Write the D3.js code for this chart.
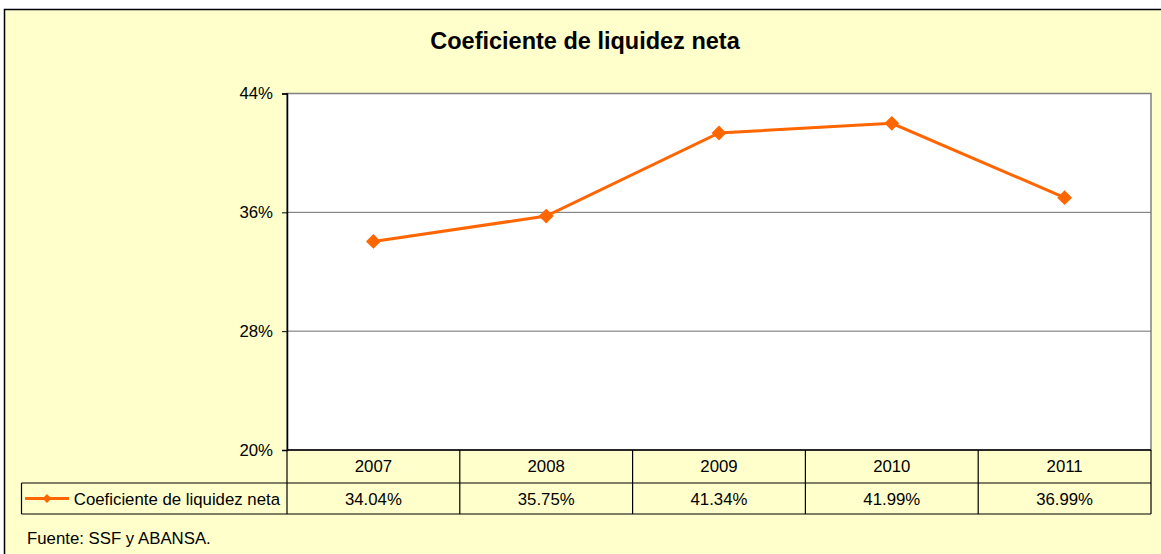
<!DOCTYPE html>
<html>
<head>
<meta charset="utf-8">
<script src="https://cdn.jsdelivr.net/npm/d3@7"></script>
<style>
  html, body { margin: 0; padding: 0; background: #fff; }
  svg { display: block; font-family: "Liberation Sans", Arial, sans-serif; }
</style>
</head>
<body>
<div id="chart"></div>
<script>
// chart data
const years = ['2007', '2008', '2009', '2010', '2011'];
const liquidez = [34.04, 35.75, 41.34, 41.99, 36.99];
const yTicks = [20, 28, 36, 44];
const seriesName = 'Coeficiente de liquidez neta';
const titleText = 'Coeficiente de liquidez neta';
const sourceText = 'Fuente: SSF y ABANSA.';

const W = 1161, H = 554;
const plot = { left: 287, right: 1151, top: 93.5, bottom: 450 };
const rowH = [33, 31];
const legendLeft = 21.5;
const orange = '#FF6600';
const bg = '#FFFFCC';
const fs = 16.8;

const svg = d3.select('#chart').append('svg')
  .attr('width', W).attr('height', H);

// frame
svg.append('rect')
  .attr('x', 4.5).attr('y', 9.5)
  .attr('width', W + 10).attr('height', H + 10)
  .attr('fill', bg).attr('stroke', '#000').attr('stroke-width', 1.5);

svg.append('text')
  .attr('x', 585).attr('y', 49)
  .attr('text-anchor', 'middle')
  .attr('font-size', 23.5).attr('font-weight', 'bold')
  .text(titleText);

const x = d3.scaleBand()
  .domain(years)
  .range([plot.left, plot.right]);

const y = d3.scaleLinear()
  .domain([20, 44])
  .range([plot.bottom, plot.top]);

// plot area
svg.append('rect')
  .attr('x', plot.left).attr('y', plot.top)
  .attr('width', plot.right - plot.left).attr('height', plot.bottom - plot.top)
  .attr('fill', '#fff').attr('stroke', '#808080').attr('stroke-width', 1.5);

// gridlines
svg.append('g')
  .selectAll('line')
  .data(yTicks.filter(d => d > 20 && d < 44))
  .join('line')
  .attr('x1', plot.left).attr('x2', plot.right)
  .attr('y1', d => y(d)).attr('y2', d => y(d))
  .attr('stroke', '#6e6e6e').attr('stroke-width', 1);

// y axis
const yAxis = d3.axisLeft(y)
  .tickValues(yTicks)
  .tickSize(5)
  .tickPadding(9)
  .tickFormat(d => d + '%');

const ya = svg.append('g')
  .attr('transform', 'translate(' + plot.left + ',0)')
  .call(yAxis);
ya.select('.domain').attr('stroke', '#000').attr('stroke-width', 1.5);
ya.selectAll('.tick line').attr('stroke', '#000');
ya.selectAll('.tick text')
  .attr('font-size', fs).attr('fill', '#000')
  .attr('font-family', '"Liberation Sans", Arial, sans-serif');

// line
const line = d3.line()
  .x((d, i) => x(years[i]) + x.bandwidth() / 2)
  .y(d => y(d));

svg.append('path')
  .datum(liquidez)
  .attr('d', line)
  .attr('fill', 'none')
  .attr('stroke', orange)
  .attr('stroke-width', 3);

const diamond = d3.symbol().type(d3.symbolDiamond2).size(140);
svg.append('g')
  .selectAll('path')
  .data(liquidez)
  .join('path')
  .attr('transform', (d, i) => 'translate(' + (x(years[i]) + x.bandwidth() / 2) + ',' + y(d) + ')')
  .attr('d', diamond)
  .attr('fill', orange);

// data table
const tbl = svg.append('g');
const r1 = plot.bottom, r2 = r1 + rowH[0], r3 = r2 + rowH[1];

tbl.append('line')
  .attr('x1', plot.left).attr('x2', plot.right)
  .attr('y1', r1).attr('y2', r1)
  .attr('stroke', '#000').attr('stroke-width', 1.5);
tbl.append('line')
  .attr('x1', legendLeft).attr('x2', plot.right)
  .attr('y1', r2).attr('y2', r2)
  .attr('stroke', '#000').attr('stroke-width', 1.2);
tbl.append('line')
  .attr('x1', legendLeft).attr('x2', plot.right)
  .attr('y1', r3).attr('y2', r3)
  .attr('stroke', '#000').attr('stroke-width', 1.2);
tbl.append('line')
  .attr('x1', legendLeft).attr('x2', legendLeft)
  .attr('y1', r2).attr('y2', r3)
  .attr('stroke', '#000').attr('stroke-width', 1.2);

const colEdges = years.map(d => x(d)).concat([plot.right]);
tbl.selectAll('line.col')
  .data(colEdges)
  .join('line')
  .attr('class', 'col')
  .attr('x1', d => d).attr('x2', d => d)
  .attr('y1', r1).attr('y2', r3)
  .attr('stroke', '#000').attr('stroke-width', 1.2);

tbl.selectAll('text.year')
  .data(years)
  .join('text')
  .attr('class', 'year')
  .attr('x', d => x(d) + x.bandwidth() / 2)
  .attr('y', r1 + 21.5)
  .attr('text-anchor', 'middle')
  .attr('font-size', fs)
  .text(d => d);

tbl.selectAll('text.val')
  .data(liquidez)
  .join('text')
  .attr('class', 'val')
  .attr('x', (d, i) => x(years[i]) + x.bandwidth() / 2)
  .attr('y', r2 + 21.5)
  .attr('text-anchor', 'middle')
  .attr('font-size', fs)
  .text(d => d.toFixed(2) + '%');

// legend key
const ly = r2 + rowH[1] / 2;
tbl.append('line')
  .attr('x1', 25).attr('x2', 69)
  .attr('y1', ly).attr('y2', ly)
  .attr('stroke', orange).attr('stroke-width', 3);
tbl.append('path')
  .attr('transform', 'translate(47,' + ly + ')')
  .attr('d', d3.symbol().type(d3.symbolDiamond2).size(50))
  .attr('fill', orange);
tbl.append('text')
  .attr('x', 280).attr('y', r2 + 21.5)
  .attr('text-anchor', 'end')
  .attr('font-size', fs)
  .text(seriesName);

svg.append('text')
  .attr('x', 27).attr('y', 544)
  .attr('font-size', fs)
  .text(sourceText);
</script>
</body>
</html>
